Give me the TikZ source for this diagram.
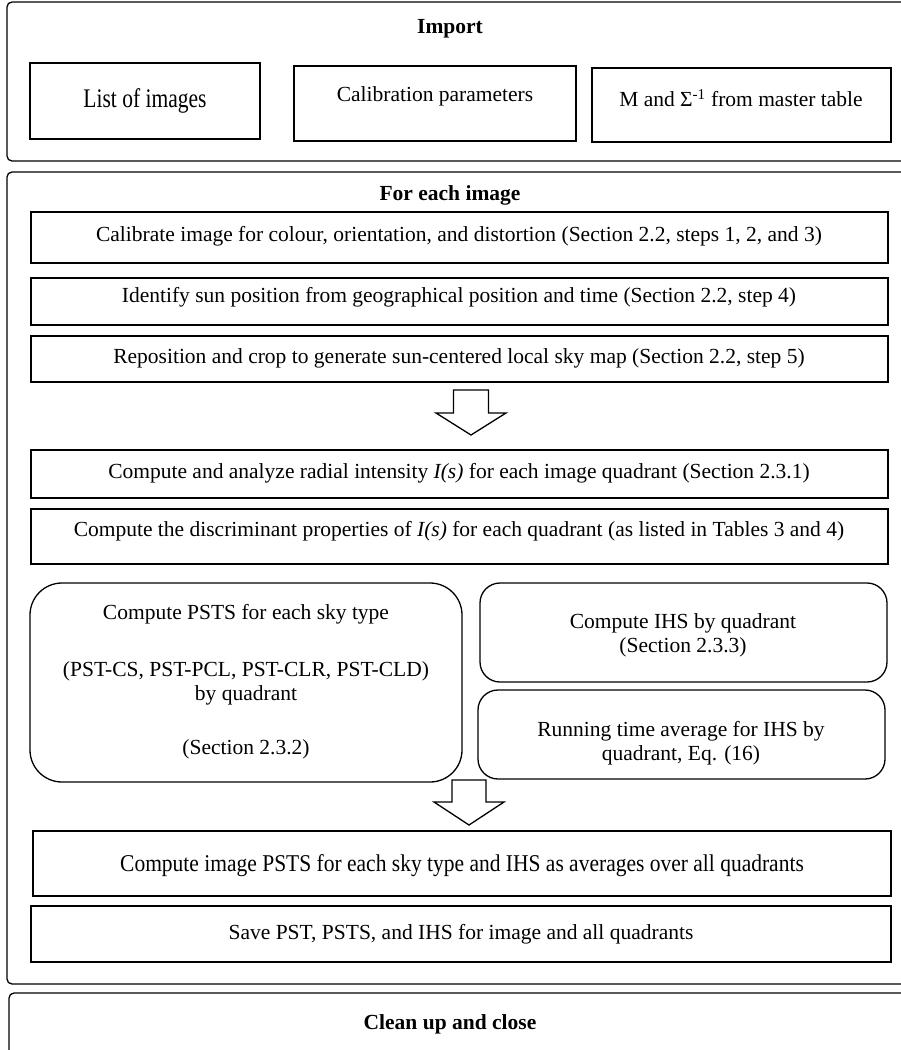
\documentclass[tikz,border=0pt]{standalone}
\usepackage{fontspec}
\setmainfont{Liberation Serif}
\usetikzlibrary{fit}
\begin{document}
\begin{tikzpicture}[x=1pt,y=-1pt,
  box/.style={draw, line width=1.3pt, inner sep=0pt},
  outer/.style={box, rounded corners=5pt},
  rbox/.style={box, rounded corners=#1},
  txt/.style={font=\fontsize{21.5}{24}\selectfont, inner sep=0pt, align=center},
  head/.style={txt, font=\fontsize{21.5}{24}\selectfont\bfseries},
  blockarrow/.style={draw, line width=1.3pt, fill=white, line join=miter}]
\useasboundingbox (0,0) rectangle (901,1050);

% Import
\node[outer, fit={(7,2) (906,161)}] (import) {};
\node[head] (importT) at (450,29) {Import};
\node[box, fit={(30,63) (260,139)}] (list) {};
\node[txt] (listT) at (145,101) {\scalebox{1}[1.25]{List of images}};
\node[box, fit={(294,66) (576,141)}] (calib) {};
\node[txt] (calibT) at (435,96) {Calibration parameters};
\node[box, fit={(592,68) (891,142)}] (master) {};
\node[txt] (masterT) at (741,98) {M and \char"03A3\textsuperscript{-1} from master table};

% For each image
\node[outer, fit={(7,172) (906,984)}] (each) {};
\node[head] (eachT) at (450,195) {For each image};
\node[box, fit={(31,212) (888,263)}] (s1) {};
\node[txt] (s1T) at (459,236) {Calibrate image for colour, orientation, and distortion (Section 2.2, steps 1, 2, and 3)};
\node[box, fit={(31,278) (888,325)}] (s2) {};
\node[txt] (s2T) at (459,297) {Identify sun position from geographical position and time (Section 2.2, step 4)};
\node[box, fit={(31,336) (888,382)}] (s3) {};
\node[txt] (s3T) at (459,358) {Reposition and crop to generate sun-centered local sky map (Section 2.2, step 5)};

\coordinate (a1) at (471,390);
\draw[blockarrow, shift={(a1)}] (-17.5,0) -- (-17.5,23) -- (-35,23) -- (0,45) -- (35,23) -- (17.5,23) -- (17.5,0) -- cycle;

\node[box, fit={(31,450) (888,498)}] (s4) {};
\node[txt] (s4T) at (459,473) {Compute and analyze radial intensity \textit{I(s)} for each image quadrant (Section 2.3.1)};
\node[box, fit={(31,509) (888,564)}] (s5) {};
\node[txt] (s5T) at (459,531) {Compute the discriminant properties of \textit{I(s)} for each quadrant (as listed in Tables 3 and 4)};

\node[rbox=32pt, fit={(30,583) (462,782)}] (psts) {};
\node[txt] (pstsA) at (246,614) {Compute PSTS for each sky type};
\node[txt] (pstsB) at (246,683) {(PST-CS, PST-PCL, PST-CLR, PST-CLD)\\by quadrant};
\node[txt] (pstsC) at (246,749) {(Section 2.3.2)};

\node[rbox=20pt, fit={(480,583) (887,682)}] (ihs) {};
\node[txt] (ihsT) at (683,635) {Compute IHS by quadrant\\(Section 2.3.3)};
\node[rbox=20pt, fit={(478,690) (885,779)}] (avg) {};
\node[txt] (avgT) at (681,743) {Running time average for IHS by\\quadrant, Eq. (16)};

\coordinate (a2) at (469,780);
\draw[blockarrow, shift={(a2)}] (-17,0) -- (-17,22) -- (-35,22) -- (0,45) -- (35,22) -- (17,22) -- (17,0) -- cycle;

\node[box, fit={(33,831) (891,896)}] (s6) {};
\node[txt] (s6T) at (462,866) {\scalebox{1}[1.12]{Compute image PSTS for each sky type and IHS as averages over all quadrants}};
\node[box, fit={(31,906) (891,962)}] (s7) {};
\node[txt] (s7T) at (461,934) {Save PST, PSTS, and IHS for image and all quadrants};

% Clean up
\node[outer, fit={(9,993) (906,1070)}] (clean) {};
\node[head] (cleanT) at (450,1024) {Clean up and close};
\end{tikzpicture}
\end{document}
